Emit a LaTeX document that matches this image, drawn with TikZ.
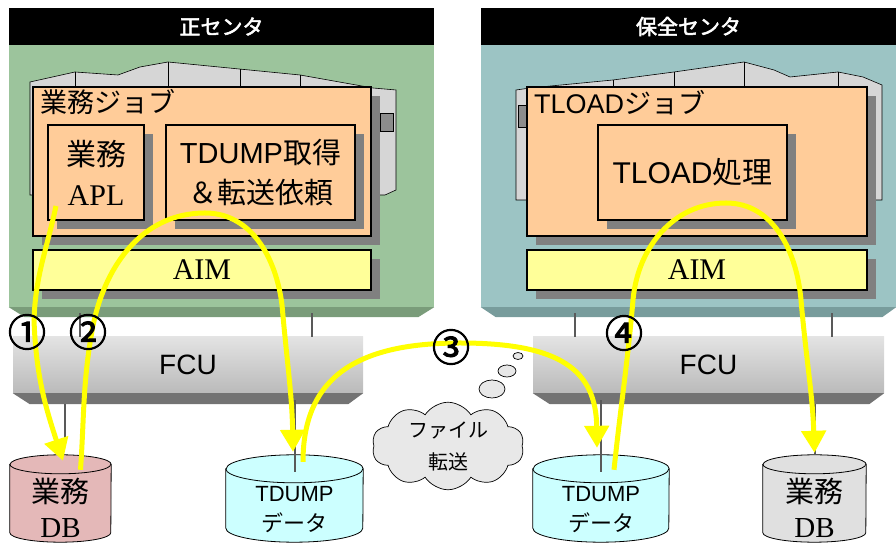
\documentclass[tikz,border=0pt]{standalone}
\usepackage{fontspec}
\setmainfont{Liberation Sans}
\newfontfamily\jp{Noto Sans CJK JP}
\newfontfamily\jpbold[FakeBold=2.5]{Noto Sans CJK JP}
\newfontfamily\mincho{Liberation Serif}
\usepackage{tikz}
\usetikzlibrary{shapes.geometric, shapes.symbols, arrows.meta, shadows}

\definecolor{maingreen}{RGB}{156,196,156}
\definecolor{maingreendk}{RGB}{122,156,122}
\definecolor{subteal}{RGB}{156,196,196}
\definecolor{subtealdk}{RGB}{120,156,156}
\definecolor{jobfill}{RGB}{255,204,153}
\definecolor{aimfill}{RGB}{255,255,153}
\definecolor{flowyellow}{RGB}{255,255,0}
\definecolor{dumpfill}{RGB}{204,255,255}
\definecolor{dbpink}{RGB}{228,184,184}
\definecolor{dbgray}{RGB}{224,224,224}
\definecolor{srvgray}{RGB}{214,214,214}
\definecolor{cloudgray}{RGB}{232,232,232}

\newcommand{\fsz}[2]{\fontsize{#1pt}{#2pt}\selectfont}

\tikzstyle{panel} = [rectangle, minimum height=262pt, inner sep=0pt]
\tikzstyle{header} = [rectangle, fill=black, text=white, minimum height=37pt, inner sep=0pt, font=\jpbold\fsz{21}{24}]
\tikzstyle{jobbox} = [rectangle, draw=black, line width=2pt, fill=jobfill, inner sep=0pt, align=center, drop shadow={shadow xshift=9pt, shadow yshift=-9pt, fill=black!50, opacity=1}]
\tikzstyle{aimbox} = [jobbox, fill=aimfill, minimum height=40pt, font=\mincho\fsz{30}{30}]
\tikzstyle{fcubox} = [rectangle, top color=black!11, bottom color=black!27, minimum height=56pt, inner sep=0pt, font=\fsz{28}{28}]
\tikzstyle{drumbase} = [rectangle, minimum height=87pt, inner sep=0pt]
\tikzstyle{cable} = [draw=black!65, line width=2.5pt]
\tikzstyle{bubble} = [ellipse, draw=black, line width=0.7pt, fill=cloudgray, inner sep=0pt]
\tikzstyle{flow} = [draw=flowyellow, line width=5pt, -{Triangle[width=24pt,length=22pt]}]
\tikzstyle{stepno} = [inner sep=0pt, font=\jpbold\fsz{38}{38}]

% name, x radius, y radius, fill
\newcommand{\drum}[4]{%
  \filldraw[fill=#4, draw=black, line width=0.8pt]
    ([yshift=-#3pt]#1.north west) -- ([yshift=#3pt]#1.south west)
    arc[start angle=180, end angle=360, x radius=#2pt, y radius=#3pt]
    -- ([yshift=-#3pt]#1.north east)
    arc[start angle=0, end angle=180, x radius=#2pt, y radius=#3pt] -- cycle;
  \draw[line width=0.8pt] ([yshift=-#3pt]#1.north west)
    arc[start angle=180, end angle=360, x radius=#2pt, y radius=#3pt];
}

\begin{document}
\begin{tikzpicture}[x=1pt, y=1pt]
	\useasboundingbox (0,0) rectangle (896,545);

	\node (panel1) [panel, fill=maingreen, minimum width=425pt] at (221.5,369) {};
	\fill[maingreendk] (panel1.south west) -- (panel1.south east) -- ++(-16,-10) -- ([xshift=16pt,yshift=-10pt]panel1.south west) -- cycle;
	\node (hdr1) [header, minimum width=425pt] at (221.5,518.5) {正センタ};
	\node (panel2) [panel, fill=subteal, minimum width=415pt] at (688.5,369) {};
	\fill[subtealdk] (panel2.south west) -- (panel2.south east) -- ++(-14,-10) -- ([xshift=15pt,yshift=-10pt]panel2.south west) -- cycle;
	\node (hdr2) [header, minimum width=415pt] at (688.5,518.5) {保全センタ};

	\filldraw[fill=srvgray, draw=black, line width=0.6pt] (30,463) -- (48,467) -- (75,473) -- (118,470) -- (140,478) -- (168,483) -- (300,470) -- (373,457) -- (396,455) -- (396,355) -- (385,350) -- (30,350) -- cycle;
	\draw[line width=0.6pt] (75,473) -- (75,455) (168,483) -- (168,455) (240,476) -- (240,455) (300,470) -- (300,455);
	\filldraw[fill=black!45, draw=black, line width=0.4pt] (380,432) rectangle (393,414);
	\filldraw[fill=srvgray, draw=black, line width=0.6pt] (516,455) -- (530,457) -- (613,465) -- (674,473) -- (744,483) -- (774,475) -- (790,468) -- (838,473) -- (863,468) -- (882,460) -- (882,345) -- (516,345) -- cycle;
	\draw[line width=0.6pt] (613,465) -- (613,455) (674,473) -- (674,455) (744,483) -- (744,455) (838,473) -- (838,455);
	\filldraw[fill=black!45, draw=black, line width=0.4pt] (518,440) rectangle (526,418);

	\node (job1) [jobbox, minimum width=338pt, minimum height=149pt] at (202,383.5) {};
	\node (job1lbl) [anchor=west, inner sep=0pt, font=\jp\fsz{27}{27}] at ([shift={(8pt,-16pt)}]job1.north west) {業務ジョブ};
	\node (apl) [jobbox, minimum width=96pt, minimum height=95pt, font=\fsz{30}{40}] at (96,372.5) {{\jp 業務}\\{\mincho APL}};
	\node (dumpreq) [jobbox, minimum width=189pt, minimum height=95pt, font=\fsz{29}{40}] at (260.5,372.5) {TDUMP{\jp 取得}\\{\jp ＆転送依頼}};
	\node (aim1) [aimbox, minimum width=338pt] at (202,275) {AIM};

	\node (job2) [jobbox, minimum width=340pt, minimum height=149pt] at (697,383.5) {};
	\node (job2lbl) [anchor=west, inner sep=0pt, font=\fsz{27}{27}] at ([shift={(8pt,-17pt)}]job2.north west) {TLOAD{\jp ジョブ}};
	\node (tload) [jobbox, minimum width=189pt, minimum height=95pt, font=\fsz{30}{30}] at (692.5,372.5) {TLOAD{\jp 処理}};
	\node (aim2) [aimbox, minimum width=340pt] at (697,275) {AIM};

	\node (fcu1) [fcubox, minimum width=350pt] at (188,180) {FCU};
	\fill[black!55] (fcu1.south west) -- (fcu1.south east) -- ++(-15,-11) -- ([xshift=17pt,yshift=-11pt]fcu1.south west) -- cycle;
	\node (fcu2) [fcubox, minimum width=351pt] at (708.5,180) {FCU};
	\fill[black!55] (fcu2.south west) -- (fcu2.south east) -- ++(-15,-11) -- ([xshift=17pt,yshift=-11pt]fcu2.south west) -- cycle;

	\node (db1) [drumbase, minimum width=101pt] at (60.5,46.5) {};
	\drum{db1}{50.5}{9.5}{dbpink}
	\node (db1txt) [align=center, font=\fsz{29}{35}] at (60.5,37.5) {{\jp 業務}\\{\mincho DB}};
	\node (dump1) [drumbase, minimum width=137pt] at (294.5,46.5) {};
	\drum{dump1}{68.5}{14}{dumpfill}
	\node (dump1txt) [align=center, font=\fsz{22}{30}] at (294.5,35) {TDUMP\\{\jp データ}};
	\node (dump2) [drumbase, minimum width=136pt] at (601,46.5) {};
	\drum{dump2}{68}{14}{dumpfill}
	\node (dump2txt) [align=center, font=\fsz{22}{30}] at (601,35) {TDUMP\\{\jp データ}};
	\node (db2) [drumbase, minimum width=103pt] at (814.5,46.5) {};
	\drum{db2}{51.5}{9.5}{dbgray}
	\node (db2txt) [align=center, font=\fsz{29}{35}] at (814.5,37.5) {{\jp 業務}\\{\mincho DB}};

	\draw [cable] ([xshift=-108pt]fcu1.north) -- ++(0,24);
	\draw [cable] ([xshift=124pt]fcu1.north) -- ++(0,24);
	\draw [cable] ([xshift=-133.5pt]fcu2.north) -- ++(0,24);
	\draw [cable] ([xshift=123.5pt]fcu2.north) -- ++(0,24);
	\draw [cable] ([xshift=4.5pt,yshift=8pt]db1.north) -- ++(0,43);
	\draw [cable] ([xshift=0.5pt,yshift=-17pt]dump1.north) -- ++(0,72);
	\draw [cable] ([yshift=-17pt]dump2.north) -- ++(0,72);
	\draw [cable] ([xshift=0.5pt]db2.north) -- ++(0,51);

	\node (cloud) [cloud, cloud puffs=10, cloud puff arc=115, aspect=1.8, draw=black, line width=0.7pt, fill=cloudgray, minimum width=152pt, minimum height=86pt, inner sep=0pt, align=center, font=\jp\fsz{20}{32}] at (448,99) {ファイル\\転送};
	\node (bub1) [bubble, minimum width=26pt, minimum height=18pt] at (492,156) {};
	\node (bub2) [bubble, minimum width=18pt, minimum height=12pt] at (507,174) {};
	\node (bub3) [bubble, minimum width=10pt, minimum height=7pt] at (518,189) {};

	\draw [flow] ([xshift=9pt,yshift=15pt]apl.south west) to[out=-102,in=88] (34,225) to[out=-88,in=108] ([xshift=2.5pt,yshift=-6pt]db1.north);
	\draw [flow] ([xshift=20pt,yshift=-15pt]db1.north) to[out=86,in=-100] (92,214) to[out=80,in=180] (205,332) to[out=0,in=97] (282,240) to[out=-85,in=91] ([xshift=-1.5pt,yshift=3pt]dump1.north);
	\draw [flow] ([xshift=8.5pt,yshift=-7pt]dump1.north) .. controls +(0,87) and +(-100,0) .. (460,202) .. controls +(100,0) and +(-1,78) .. ([xshift=-4pt,yshift=7pt]dump2.north);
	\draw [flow] ([xshift=13pt,yshift=-15pt]dump2.north) to[out=84,in=-95] (633,245) to[out=85,in=180] (726,342) to[out=0,in=95] (801,245) to[out=-85,in=92] ([yshift=2pt]db2.north);

	\node (n1) [stepno] at (27,213) {①};
	\node (n2) [stepno] at (88,213) {②};
	\node (n3) [stepno] at (451,198) {③};
	\node (n4) [stepno] at (624,212) {④};
\end{tikzpicture}
\end{document}
